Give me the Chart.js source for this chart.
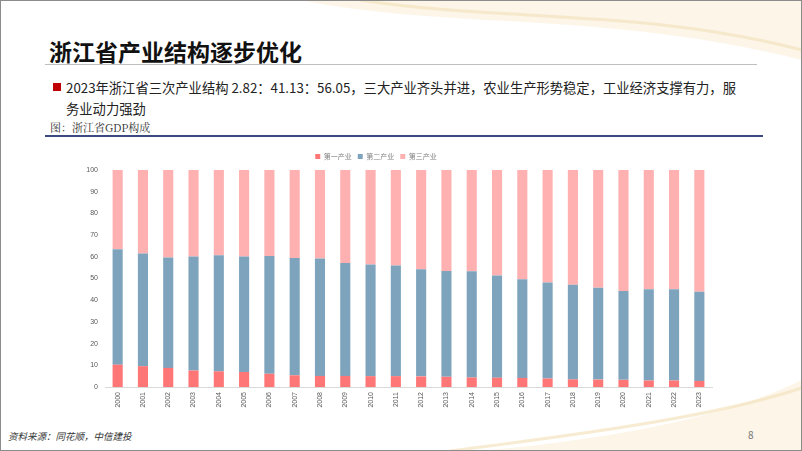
<!DOCTYPE html>
<html>
<head>
<meta charset="utf-8">
<script src="https://cdn.jsdelivr.net/npm/chart.js@4.4.1/dist/chart.umd.min.js"></script>
<style>
  body { margin: 0; background: #fff; }
  #slide { position: relative; width: 802px; height: 451px; overflow: hidden; background: #fff;
    font-family: "Noto Sans CJK SC", "Noto Sans", sans-serif; }
  #frame { position: absolute; left: 0; top: 0; width: 800px; height: 449px; border: 1px solid #8c8c8c; }
  #deco { position: absolute; left: 0; top: 0; }
  #title { position: absolute; left: 49px; top: 34px; font-size: 23px; font-weight: bold; color: #111; }
  #rule1 { position: absolute; left: 45px; top: 64px; width: 712px; height: 1px; background: #bfbfbf; }
  #bullet { position: absolute; left: 53px; top: 83px; width: 8px; height: 8px; background: #c00000; }
  #text { position: absolute; left: 66px; top: 77px; width: 720px; font-size: 13.3px; line-height: 21px; color: #222; white-space: nowrap; }
  #fig { position: absolute; left: 50px; top: 119px; font-size: 11px; color: #333; font-family: "Noto Serif CJK SC", "Noto Sans CJK SC", serif; }
  #rule2 { position: absolute; left: 45px; top: 135px; width: 718px; height: 2px; background: #3a4a80; }
  #wrap { position: absolute; left: 40px; top: 145px; width: 690px; height: 275px; }
  #src { position: absolute; left: 8px; top: 429px; font-size: 9.5px; font-style: italic; color: #333; }
  #page { position: absolute; left: 748px; top: 427px; font-size: 10px; color: #777; }
</style>
</head>
<body>
<div id="slide">
  <svg id="deco" width="802" height="451">
    <path d="M300 0 C 450 30, 600 10, 802 60 L 802 0 Z" fill="#fbf3e2" opacity="0.8"/>
    <path d="M360 0 C 500 22, 640 8, 802 50" stroke="#f3e2bd" stroke-width="3" fill="none" opacity="0.7"/>
    <path d="M480 451 C 600 440, 720 420, 802 380 L 802 451 Z" fill="#fbf3e2" opacity="0.8"/>
    <path d="M450 451 C 600 432, 720 415, 802 388" stroke="#f3e2bd" stroke-width="3" fill="none" opacity="0.7"/>
  </svg>
  <div id="frame"></div>
  <div id="title">浙江省产业结构逐步优化</div>
  <div id="rule1"></div>
  <div id="bullet"></div>
  <div id="text">2023年浙江省三次产业结构 2.82：41.13：56.05，三大产业齐头并进，农业生产形势稳定，工业经济支撑有力，服<br>务业动力强劲</div>
  <div id="fig">图：浙江省GDP构成</div>
  <div id="rule2"></div>
  <div id="wrap"><canvas id="chart"></canvas></div>
  <div id="src">资料来源：同花顺，中信建投</div>
  <div id="page">8</div>
</div>
<script>
const years = ["2000", "2001", "2002", "2003", "2004", "2005", "2006", "2007", "2008", "2009", "2010", "2011",
  "2012", "2013", "2014", "2015", "2016", "2017", "2018", "2019", "2020", "2021", "2022", "2023"];
const primary = [10.3, 9.6, 8.8, 7.6, 7.2, 6.9, 6.1, 5.4, 5.1, 5.1, 5.0, 5.0,
  4.9, 4.7, 4.4, 4.3, 4.2, 3.9, 3.5, 3.4, 3.3, 3.0, 3.0, 2.82];
const secondary = [53.2, 51.9, 50.9, 52.5, 53.5, 53.2, 54.3, 54.1, 54.1, 52.0, 51.5, 51.0,
  49.4, 48.7, 48.9, 47.1, 45.5, 44.3, 43.6, 42.3, 40.9, 42.0, 42.0, 41.13];
const tertiary = [36.5, 38.5, 40.3, 39.9, 39.3, 39.9, 39.6, 40.5, 40.8, 42.9, 43.5, 44.0,
  45.7, 46.6, 46.7, 48.6, 50.3, 51.8, 52.9, 54.3, 55.8, 55.0, 55.0, 56.05];
const seriesNames = ["第一产业", "第二产业", "第三产业"];
const seriesColors = ["#ff7676", "#7ea4bd", "#ffb1b1"];
const yTicks = [0, 10, 20, 30, 40, 50, 60, 70, 80, 90, 100];

const tickFont = { family: "Liberation Sans, Arial, sans-serif", size: 7 };

new Chart(document.getElementById("chart"), {
  type: "bar",
  data: {
    labels: years,
    datasets: [primary, secondary, tertiary].map((d, i) => ({
      label: seriesNames[i],
      data: d,
      backgroundColor: seriesColors[i],
      categoryPercentage: 1,
      barPercentage: 0.4,
    })),
  },
  options: {
    responsive: true,
    maintainAspectRatio: false,
    animation: false,
    layout: { padding: { top: 2, right: 18, bottom: 0, left: 0 } },
    plugins: {
      tooltip: { enabled: false },
      legend: {
        position: "top",
        labels: {
          boxWidth: 5, boxHeight: 5, padding: 6, color: "#7f7f7f",
          font: { family: "Noto Sans CJK SC", size: 7 },
        },
      },
    },
    scales: {
      x: {
        stacked: true,
        grid: { display: false, drawTicks: false },
        border: { color: "#d9d9d9" },
        ticks: { color: "#595959", font: tickFont, maxRotation: 90, minRotation: 90, padding: 5 },
        afterFit: (s) => { s.height = 33; },
      },
      y: {
        stacked: true,
        min: 0, max: 100,
        afterBuildTicks: (s) => { s.ticks = yTicks.map((v) => ({ value: v })); },
        grid: { display: false, drawTicks: false },
        border: { display: false },
        ticks: { color: "#595959", font: tickFont, padding: 7 },
        afterFit: (s) => { s.width = 65; },
      },
    },
  },
});
</script>
</body>
</html>
